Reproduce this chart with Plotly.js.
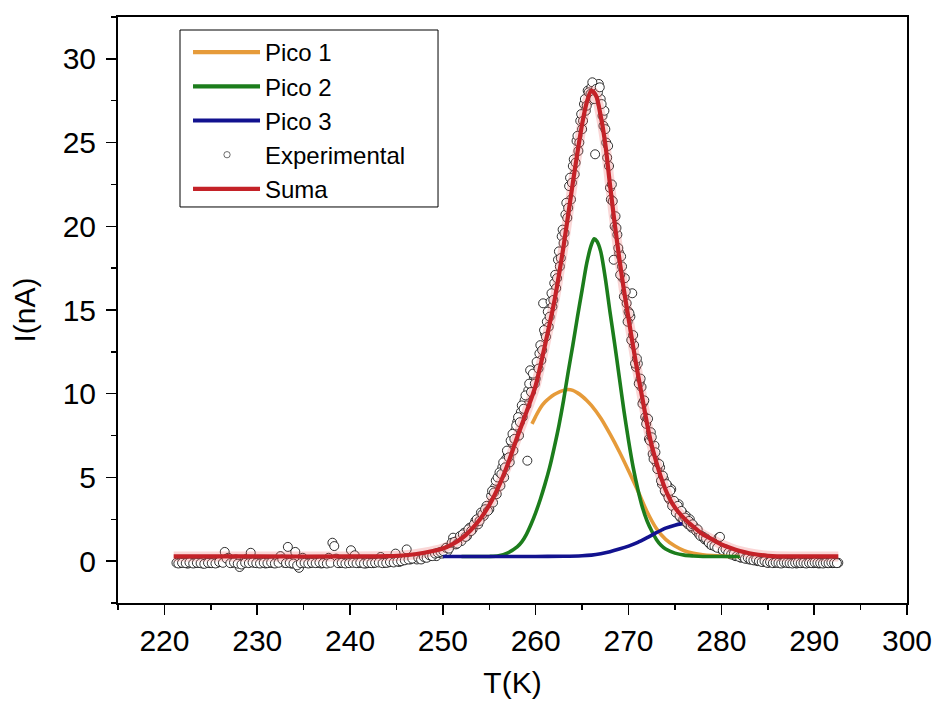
<!DOCTYPE html>
<html><head><meta charset="utf-8">
<script src="https://cdn.plot.ly/plotly-3.0.1.min.js"></script>
<style>html,body{margin:0;padding:0;background:#fff}#chart{width:935px;height:707px}
.legend .legendlines path{stroke-width:4.2px !important}</style>
</head><body><div id="chart"></div>
<script>
// Experimental points, first sweep (T in K, I in nA)
const expT = [
221.3,221.7,222.1,222.5,222.9,223.3,223.7,224.1,224.5,224.9,225.3,225.7,226.1,226.5,226.9,227.3,227.7,228.1,228.5,228.9,
229.3,229.7,230.1,230.5,230.9,231.3,231.7,232.1,232.5,232.9,233.3,233.7,234.1,234.5,234.9,235.3,235.7,236.1,236.5,236.9,
237.3,237.7,238.1,238.5,238.9,239.3,239.7,240.1,240.5,240.9,241.3,241.7,242.1,242.5,242.9,243.3,243.7,244.1,244.5,244.9,
245.3,245.7,246.1,246.5,246.9,
247.2,247.5,247.8,248.1,248.4,248.7,249.0,249.3,249.6,249.9,250.2,250.5,250.8,251.1,251.4,251.7,252.0,252.3,252.6,252.9,
253.2,253.5,253.8,254.1,254.4,254.7,255.0,
255.2,255.4,255.6,255.8,256.0,256.2,256.4,256.6,256.8,257.0,257.2,257.4,257.6,257.8,258.0,258.2,258.4,258.6,258.8,259.0,
259.2,259.4,259.6,259.8,260.0,260.2,260.4,260.6,260.8,261.0,261.2,261.4,261.6,261.8,262.0,262.2,262.4,262.6,262.8,263.0,
263.2,263.4,263.6,263.8,264.0,264.2,264.4,264.6,264.8,265.0,265.2,265.4,265.6,265.8,266.0,266.2,266.4,266.6,266.8,267.0,
267.2,267.4,267.6,267.8,268.0,268.2,268.4,268.6,268.8,269.0,269.2,269.4,269.6,269.8,270.0,270.2,270.4,270.6,270.8,271.0,
271.2,271.4,271.6,271.8,272.0,272.2,272.4,272.6,272.8,273.0,273.2,273.4,273.6,273.8,274.0,274.2,274.4,274.6,274.8,275.0,
275.2,275.4,275.6,275.8,276.0,276.2,276.4,276.6,276.8,277.0,
277.3,277.6,277.9,278.2,278.5,278.8,279.1,279.4,279.7,280.0,280.3,280.6,280.9,281.2,281.5,281.8,282.1,282.4,282.7,283.0,
283.3,283.6,283.9,284.2,284.5,284.8,285.1,285.4,285.7,286.0,286.3,286.6,286.9,287.2,287.5,287.8,288.1,288.4,288.7,289.0,
289.3,289.6,289.9,290.2,290.5,290.8,291.1,291.4,291.7,292.0,292.3,292.6
];
const expI = [
-0.1,-0.12,-0.08,-0.15,-0.1,-0.12,-0.1,-0.14,-0.1,-0.12,-0.08,-0.1,0.05,0.55,0.2,-0.1,0.1,-0.35,-0.12,0.15,
0.5,-0.1,-0.12,-0.08,-0.14,-0.1,-0.12,0.0,0.3,-0.1,0.85,-0.15,0.55,-0.4,0.2,-0.1,-0.12,0.05,-0.1,-0.14,
-0.1,0.2,1.1,0.15,-0.12,-0.1,-0.08,0.65,0.35,-0.12,-0.1,-0.14,-0.1,-0.12,-0.05,0.25,-0.1,-0.08,0.0,0.45,
-0.05,0.05,0.7,0.1,0.2,
0.1,0.2,0.15,0.3,0.25,0.35,0.4,0.3,0.5,0.45,0.7,0.6,0.9,1.4,1.0,1.3,1.2,1.7,1.5,2.0,
1.9,2.4,2.2,2.9,2.7,3.3,3.1,
3.9,3.5,4.4,4.0,4.9,4.5,5.6,5.0,6.1,6.4,5.9,7.1,6.6,7.8,8.3,7.5,8.9,8.6,9.6,9.3,
10.2,11.4,10.4,11.0,10.9,11.8,12.4,12.0,15.4,13.6,14.3,14.0,15.5,15.2,16.6,16.3,18.0,17.6,19.4,19.0,
20.7,20.5,22.4,21.6,23.6,23.1,25.1,24.5,26.3,25.8,27.3,26.9,28.1,27.5,28.3,27.8,24.3,28.4,28.5,27.6,
26.6,26.9,25.0,24.8,22.3,22.5,18.0,20.6,19.5,18.4,18.2,16.9,16.9,15.4,14.9,14.6,16.0,12.9,11.6,11.8,
10.7,10.4,9.5,8.6,8.5,7.3,7.7,6.4,6.9,5.9,5.5,5.6,4.6,4.9,4.1,4.5,3.7,4.3,3.4,3.3,
3.0,3.4,2.6,2.9,2.4,2.7,2.2,2.5,2.0,2.1,
1.8,1.6,1.5,1.3,1.2,1.0,1.1,0.85,1.4,0.7,0.6,0.55,0.45,0.4,0.3,0.35,0.2,0.25,0.15,0.1,
0.15,0.05,0.0,0.05,-0.05,-0.05,-0.1,0.0,-0.1,-0.08,-0.12,-0.1,-0.05,-0.12,-0.1,-0.1,-0.14,-0.08,-0.1,-0.12,
-0.1,-0.08,-0.12,-0.1,-0.14,-0.1,-0.08,-0.12,-0.1,-0.12,-0.1,-0.1
];

// Experimental points, interleaved second sweep
const expT2 = [
221.5,221.9,222.3,222.7,223.1,223.5,223.9,224.3,224.7,225.1,225.5,225.9,226.3,226.7,227.1,227.5,227.9,228.3,228.7,229.1,
229.5,229.9,230.3,230.7,231.1,231.5,231.9,232.3,232.7,233.1,233.5,233.9,234.3,234.7,235.1,235.5,235.9,236.3,236.7,237.1,
237.5,237.9,238.3,238.7,239.1,239.5,239.9,240.3,240.7,241.1,241.5,241.9,242.3,242.7,243.1,243.5,243.9,244.3,244.7,245.1,
245.5,245.9,246.3,246.7,
247.35,247.65,247.95,248.25,248.55,248.85,249.15,249.45,249.75,250.05,250.35,250.65,250.95,251.25,251.55,251.85,252.15,252.45,252.75,253.05,
253.35,253.65,253.95,254.25,254.55,254.85,
255.3,255.5,255.7,255.9,256.1,256.3,256.5,256.7,256.9,257.1,
257.3,257.5,257.7,257.9,258.1,258.3,258.5,258.7,258.9,259.1,
259.3,259.5,259.7,259.9,260.1,260.3,260.5,260.7,260.9,261.1,
261.3,261.5,261.7,261.9,262.1,262.3,262.5,262.7,262.9,263.1,
263.3,263.5,263.7,263.9,264.1,264.3,264.5,264.7,264.9,265.1,
265.3,265.5,265.7,265.9,266.1,266.3,266.5,266.7,266.9,267.1,
267.3,267.5,267.7,267.9,268.1,268.3,268.5,268.7,268.9,269.1,
269.3,269.5,269.7,269.9,270.1,270.3,270.5,270.7,270.9,271.1,
271.3,271.5,271.7,271.9,272.1,272.3,272.5,272.7,272.9,273.1,
273.3,273.5,273.7,273.9,274.1,274.3,274.5,274.7,274.9,275.1,
275.3,275.5,275.7,275.9,276.1,276.3,276.5,276.7,276.9,
277.45,277.75,278.05,278.35,278.65,278.95,279.25,279.55,279.85,280.15,
280.45,280.75,281.05,281.35,281.65,281.95,282.25,282.55,282.85,283.15,
283.45,283.75,284.05,284.35,284.65,284.95,285.25,285.55,285.85,286.15,
286.45,286.75,287.05,287.35,287.65,287.95,288.25,288.55,288.85,289.15,
289.45,289.75,290.05,290.35,290.65,290.95,291.25,291.55,291.85,292.15,
292.45
];
const expI2 = [
-0.14,-0.1,-0.12,-0.08,-0.14,-0.1,-0.12,-0.16,-0.1,-0.12,-0.14,-0.05,-0.1,0.15,-0.12,-0.08,-0.15,-0.2,-0.1,-0.12,
-0.08,-0.12,-0.14,-0.1,-0.12,-0.08,-0.14,-0.1,0.1,-0.12,-0.1,-0.14,-0.25,-0.12,-0.1,-0.14,-0.1,-0.12,-0.08,-0.12,
-0.14,-0.1,0.9,-0.12,-0.1,-0.14,-0.12,-0.1,-0.12,-0.08,-0.14,-0.1,-0.12,-0.1,-0.08,-0.12,-0.1,-0.05,-0.08,-0.02,
0.0,0.05,0.1,0.15,
0.2,0.1,0.25,0.2,0.35,0.3,0.45,0.5,0.55,0.6,0.8,0.75,1.1,1.15,1.05,1.5,1.6,1.45,1.9,1.8,
2.2,2.5,2.4,2.8,3.1,3.0,
4.2,4.1,4.8,5.0,5.3,5.2,5.9,5.6,6.6,6.2,
7.2,7.6,7.3,8.1,8.6,8.3,9.3,9.1,9.9,6.0,
10.6,10.1,11.2,10.6,11.9,11.5,12.9,12.6,13.8,13.4,
14.9,14.6,16.0,15.6,17.1,16.9,18.5,18.1,19.8,19.6,
21.4,21.1,22.9,22.6,24.0,23.8,25.4,25.0,26.7,26.3,
27.6,27.2,28.0,27.9,28.6,27.6,28.2,28.0,28.3,27.3,
26.0,25.8,24.1,23.6,21.6,21.5,20.0,19.9,18.7,17.1,
17.6,15.8,16.1,14.3,14.8,13.2,13.5,11.8,12.1,10.6,
10.9,9.4,9.6,8.2,8.5,7.2,7.4,6.1,6.5,5.5,
5.8,4.8,5.1,4.2,4.6,3.8,4.2,3.3,3.6,2.9,
3.3,2.7,3.0,2.5,2.6,2.3,2.4,2.1,2.2,
1.9,1.5,1.45,1.35,1.1,0.95,0.9,0.8,1.45,0.65,
0.7,0.5,0.4,0.45,0.3,0.25,0.3,0.15,0.2,0.1,
0.05,0.1,0.0,-0.05,0.0,-0.1,-0.05,-0.12,-0.08,-0.1,
-0.14,-0.08,-0.1,-0.12,-0.14,-0.1,-0.08,-0.12,-0.1,-0.14,
-0.1,-0.12,-0.08,-0.1,-0.12,-0.14,-0.1,-0.12,-0.08,-0.1,
-0.12
];

// Fitted sum
const sumaT = [221,230,240,244,246,248,250,251,252,253,254,255,256,257,258,259,260,261,262,263,264,265,265.5,266,266.5,267,267.5,268,268.5,269,269.5,270,270.5,271,271.5,272,272.5,273,273.5,274,274.5,275,275.5,276,277,278,279,280,281,282,283,284,285,286,288,292.6];
const sumaI = [0.28,0.28,0.28,0.3,0.35,0.5,0.75,1.0,1.35,1.85,2.5,3.35,4.45,5.8,7.4,8.9,10.5,12.9,15.5,18.8,22.6,26.1,27.4,28.1,27.8,26.6,24.9,22.5,20.2,18.1,16.2,14.5,12.8,11.2,9.7,8.2,6.9,5.9,5.0,4.25,3.65,3.2,2.85,2.55,2.05,1.6,1.3,1.0,0.78,0.6,0.47,0.38,0.32,0.29,0.28,0.28];

// Peak 1
const pico1T = [259.6,260,260.5,261,261.5,262,262.5,263,263.5,264,264.5,265,265.5,266,267,268,269,270,271,272,273,274,275,276,277,278,279,280,281,282];
const pico1I = [8.2,8.65,9.15,9.5,9.75,9.95,10.1,10.2,10.25,10.2,10.05,9.85,9.6,9.3,8.55,7.6,6.55,5.4,4.2,2.95,1.95,1.3,0.9,0.62,0.47,0.38,0.33,0.3,0.28,0.28];

// Peak 2
const pico2T = [252,255,256,257,258,258.5,259,259.5,260,260.5,261,261.5,262,262.5,263,263.5,264,264.5,265,265.5,266,266.3,266.6,267,267.5,268,268.5,269,269.5,270,270.5,271,271.5,272,272.5,273,273.5,274,275,276,277,278,282];
const pico2I = [0.28,0.28,0.32,0.5,0.85,1.15,1.6,2.2,2.9,3.7,4.6,5.6,6.8,8.1,9.6,11.3,12.9,14.6,16.2,17.8,18.9,19.25,19.1,18.5,16.9,14.9,13.0,11.0,9.0,7.2,5.6,4.3,3.2,2.4,1.8,1.3,0.95,0.72,0.48,0.36,0.31,0.28,0.28];

// Peak 3
const pico3T = [250,255,260,263,265,266,267,268,269,270,271,272,273,274,275,275.8];
const pico3I = [0.28,0.28,0.28,0.29,0.32,0.36,0.44,0.56,0.72,0.9,1.12,1.4,1.7,1.97,2.15,2.24];

const FONT = 'Arial, "Liberation Sans", sans-serif';
const traces = [
  {x: expT.concat(expT2), y: expI.concat(expI2), type: 'scatter', mode: 'markers', name: 'Experimental', legendrank: 4,
   marker: {symbol: 'circle', size: 9, color: '#ffffff', line: {color: '#1a1a1a', width: 0.9}}},
  {x: pico1T, y: pico1I, type: 'scatter', mode: 'lines', name: 'Pico 1', legendrank: 1,
   line: {color: '#e69b3a', width: 3.6, shape: 'spline', smoothing: 0.8}},
  {x: pico2T, y: pico2I, type: 'scatter', mode: 'lines', name: 'Pico 2', legendrank: 2,
   line: {color: '#1c7d1c', width: 3.6, shape: 'spline', smoothing: 0.8}},
  {x: pico3T, y: pico3I, type: 'scatter', mode: 'lines', name: 'Pico 3', legendrank: 3,
   line: {color: '#12128f', width: 3.6, shape: 'spline', smoothing: 0.8}},
  {x: sumaT, y: sumaI, type: 'scatter', mode: 'lines', showlegend: false, hoverinfo: 'skip',
   line: {color: 'rgba(235,90,90,0.25)', width: 10, shape: 'spline', smoothing: 0.8}},
  {x: sumaT, y: sumaI, type: 'scatter', mode: 'lines', name: 'Suma', legendrank: 5,
   line: {color: '#c42228', width: 4.2, shape: 'spline', smoothing: 0.8}}
];

const axisCommon = {
  ticks: 'outside', ticklen: 10, tickwidth: 1.5, tickcolor: '#000',
  showline: true, linecolor: '#000', linewidth: 2, mirror: true,
  showgrid: false, zeroline: false, tickfont: {size: 30, color: '#000'}
};

const layout = {
  width: 935, height: 707,
  margin: {l: 118, r: 28, t: 17, b: 104},
  paper_bgcolor: '#fff', plot_bgcolor: '#fff',
  font: {family: FONT, color: '#000'},
  showlegend: true,
  xaxis: Object.assign({}, axisCommon, {
    range: [215, 300], dtick: 10, tick0: 0,
    minor: {dtick: 5, ticks: 'outside', ticklen: 5, tickwidth: 1.5, tickcolor: '#000'},
    title: {text: 'T(K)', font: {size: 30, color: '#000'}, standoff: 16}
  }),
  yaxis: Object.assign({}, axisCommon, {
    range: [-2.5, 32.5], dtick: 5, tick0: 0, ticklabelstandoff: 4,
    minor: {dtick: 2.5, ticks: 'outside', ticklen: 5, tickwidth: 1.5, tickcolor: '#000'},
    title: {text: 'I(nA)', font: {size: 30, color: '#000'}, standoff: 18}
  }),
  legend: {x: 0.0786, y: 0.9778, xanchor: 'left', yanchor: 'top',
    bgcolor: 'rgba(0,0,0,0)', borderwidth: 0, font: {size: 24, color: '#000'},
    itemwidth: 75, tracegroupgap: 0},
  shapes: [{type: 'rect', xref: 'paper', yref: 'paper', x0: 0.0786, x1: 0.4056, y0: 0.6758, y1: 0.9778,
    line: {color: '#000', width: 1}, fillcolor: 'rgba(0,0,0,0)'}]
};

Plotly.newPlot('chart', traces, layout, {displayModeBar: false, staticPlot: true}).then(function (gd) {
  gd.querySelectorAll('.legend .traces').forEach(function (tr) {
    tr.querySelectorAll('.legendlines path').forEach(function (p) {
      p.setAttribute('d', 'M13,0h67');
      p.style.setProperty('stroke-width', '4.2px', 'important');
    });
    tr.querySelectorAll('.legendpoints path').forEach(function (p) {
      p.setAttribute('transform', 'translate(47,0) scale(0.7)');
    });
  });
});
</script>
</body></html>
